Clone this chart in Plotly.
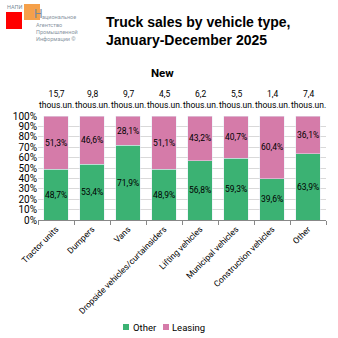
import plotly.graph_objects as go

categories = ["Tractor units", "Dumpers", "Vans", "Dropside vehicles/curtainsiders",
              "Lifting vehicles", "Municipal vehicles", "Construction vehicles", "Other"]
other_vals = [48.7, 53.4, 71.9, 48.9, 56.8, 59.3, 39.6, 63.9]
leasing_vals = [51.3, 46.6, 28.1, 51.1, 43.2, 40.7, 60.4, 36.1]
totals = ["15,7", "9,8", "9,7", "4,5", "6,2", "5,5", "1,4", "7,4"]
series_names = ["Other", "Leasing"]

GREEN = "#3BB273"
PINK = "#D57BA9"
FONT = "Roboto"

def fmt(v):
    return f"{v:.1f}%".replace(".", ",")

fig = go.Figure()
fig.add_trace(go.Bar(x=categories, y=other_vals, name=series_names[0], marker_color=GREEN,
                     textposition="none", showlegend=False))
fig.add_trace(go.Bar(x=categories, y=leasing_vals, name=series_names[1], marker_color=PINK,
                     textposition="none", showlegend=False))

W, H = 338, 338
L, R, T, B = 38, 12, 116, 118
pw, ph = W - L - R, H - T - B

def px(x):
    return (x - L) / pw

def py(y):
    return (H - B - y) / ph

annotations = []
for c, o, l in zip(categories, other_vals, leasing_vals):
    annotations.append(dict(x=c, y=o / 2, xref="x", yref="y", text=fmt(o), showarrow=False,
                            font=dict(size=8.5, family=FONT, color="black")))
    annotations.append(dict(x=c, y=o + l / 2, xref="x", yref="y", text=fmt(l), showarrow=False,
                            font=dict(size=8.5, family=FONT, color="black")))
for c, t in zip(categories, totals):
    annotations.append(dict(x=c, y=py(112), xref="x", yref="paper", text=f"{t}<br>thous.un.",
                            showarrow=False, yanchor="bottom", xanchor="center",
                            font=dict(size=8.5, family=FONT, color="black")))
annotations.append(dict(x=px(162), y=py(73), xref="paper", yref="paper", text="<b>New</b>",
                        showarrow=False, xanchor="center", yanchor="middle",
                        font=dict(size=11.5, family=FONT, color="black")))
annotations.append(dict(x=px(104), y=py(31), xref="paper", yref="paper",
                        text="<b>Truck sales by vehicle type,<br>January-December 2025</b>",
                        showarrow=False, xanchor="left", yanchor="middle", align="left",
                        font=dict(size=14, family="Liberation Sans", color="black")))
# custom legend
legend_items = [(series_names[0], GREEN, 123, 131), (series_names[1], PINK, 163, 170)]
shapes = []
for name, col, sx, tx in legend_items:
    shapes.append(dict(type="rect", xref="paper", yref="paper", x0=px(sx), x1=px(sx + 6),
                       y0=py(324), y1=py(330), fillcolor=col, line=dict(width=0)))
    annotations.append(dict(x=px(tx), y=py(327), xref="paper", yref="paper", text=name,
                            showarrow=False, xanchor="left", yanchor="middle",
                            font=dict(size=9.5, family=FONT, color="black")))
# logo
annotations.append(dict(x=px(5), y=py(6.5), xref="paper", yref="paper", text="НАПИ",
                        showarrow=False, xanchor="left", yanchor="middle",
                        font=dict(size=5.5, family=FONT, color="#7a8a99")))
annotations.append(dict(x=px(31.5), y=py(14), xref="paper", yref="paper", text="Н",
                        showarrow=False, xanchor="left", yanchor="middle",
                        font=dict(size=12, family=FONT, color="#7a8a99")))
annotations.append(dict(x=px(39.5), y=py(17), xref="paper", yref="paper", text="ациональное",
                        showarrow=False, xanchor="left", yanchor="middle",
                        font=dict(size=5.5, family=FONT, color="#8a96a3")))
annotations.append(dict(x=px(34), y=py(32), xref="paper", yref="paper",
                        text="Агентство<br>Промышленной<br>Информации ©",
                        showarrow=False, xanchor="left", yanchor="middle", align="left",
                        font=dict(size=5.5, family=FONT, color="#8a96a3")))
shapes += [
    dict(type="rect", xref="paper", yref="paper", x0=px(24), x1=px(40), y0=py(4), y1=py(20),
         fillcolor="#F5A04A", line=dict(width=0), layer="below"),
    dict(type="rect", xref="paper", yref="paper", x0=px(6), x1=px(22), y0=py(12), y1=py(29),
         fillcolor="#FF0000", line=dict(width=0)),
]

fig.update_layout(
    width=W, height=H, barmode="stack", bargap=0.333,
    margin=dict(l=L, r=R, t=T, b=B, pad=0, autoexpand=False),
    paper_bgcolor="white", plot_bgcolor="white",
    font=dict(family=FONT, size=9, color="black"),
    annotations=annotations, shapes=shapes, showlegend=False,
    xaxis=dict(tickangle=-45, tickfont=dict(size=8.5, family=FONT), showline=True,
               linecolor="#888", ticks="outside", ticklen=4, tickcolor="#888",
               tickson="boundaries", showgrid=False, automargin=False,
               range=[-0.5, len(categories) - 0.5]),
    yaxis=dict(range=[0, 100], dtick=10, ticksuffix="%", showgrid=True, gridcolor="#d9d9d9",
               tickfont=dict(size=10, family=FONT), zeroline=False, showline=False,
               automargin=False, ticks=""),
)

fig.write_html("out.html")
